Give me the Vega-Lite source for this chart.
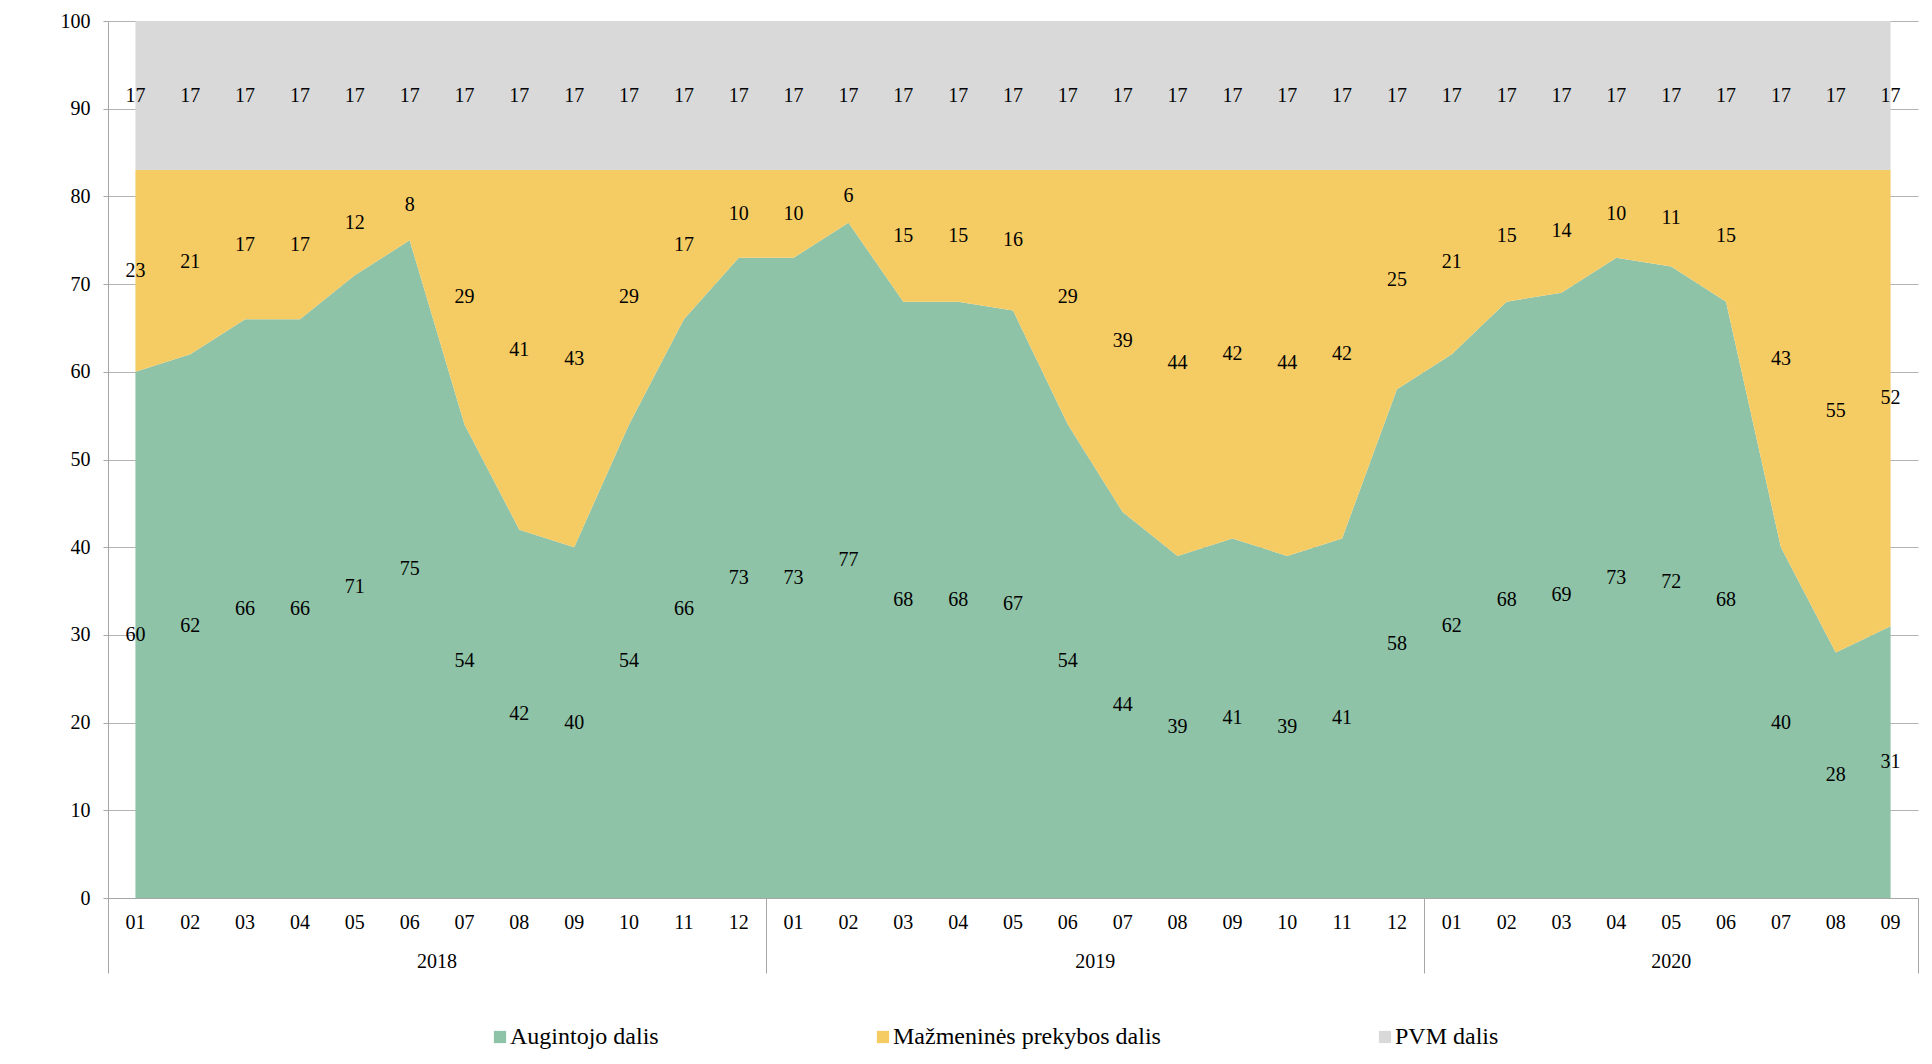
{
  "$schema": "https://vega.github.io/schema/vega-lite/v6.json",
  "autosize": {"type": "none"},
  "padding": {"left": 108, "top": 21, "right": 14, "bottom": 166},
  "width": 1810,
  "height": 877,
  "background": "white",
  "config": {"view": {"stroke": null}},
  "data": {"values": [
    {"m":"2018-01","s":"Augintojo dalis","o":1,"v":60},{"m":"2018-01","s":"Mažmeninės prekybos dalis","o":2,"v":23},{"m":"2018-01","s":"PVM dalis","o":3,"v":17},
    {"m":"2018-02","s":"Augintojo dalis","o":1,"v":62},{"m":"2018-02","s":"Mažmeninės prekybos dalis","o":2,"v":21},{"m":"2018-02","s":"PVM dalis","o":3,"v":17},
    {"m":"2018-03","s":"Augintojo dalis","o":1,"v":66},{"m":"2018-03","s":"Mažmeninės prekybos dalis","o":2,"v":17},{"m":"2018-03","s":"PVM dalis","o":3,"v":17},
    {"m":"2018-04","s":"Augintojo dalis","o":1,"v":66},{"m":"2018-04","s":"Mažmeninės prekybos dalis","o":2,"v":17},{"m":"2018-04","s":"PVM dalis","o":3,"v":17},
    {"m":"2018-05","s":"Augintojo dalis","o":1,"v":71},{"m":"2018-05","s":"Mažmeninės prekybos dalis","o":2,"v":12},{"m":"2018-05","s":"PVM dalis","o":3,"v":17},
    {"m":"2018-06","s":"Augintojo dalis","o":1,"v":75},{"m":"2018-06","s":"Mažmeninės prekybos dalis","o":2,"v":8},{"m":"2018-06","s":"PVM dalis","o":3,"v":17},
    {"m":"2018-07","s":"Augintojo dalis","o":1,"v":54},{"m":"2018-07","s":"Mažmeninės prekybos dalis","o":2,"v":29},{"m":"2018-07","s":"PVM dalis","o":3,"v":17},
    {"m":"2018-08","s":"Augintojo dalis","o":1,"v":42},{"m":"2018-08","s":"Mažmeninės prekybos dalis","o":2,"v":41},{"m":"2018-08","s":"PVM dalis","o":3,"v":17},
    {"m":"2018-09","s":"Augintojo dalis","o":1,"v":40},{"m":"2018-09","s":"Mažmeninės prekybos dalis","o":2,"v":43},{"m":"2018-09","s":"PVM dalis","o":3,"v":17},
    {"m":"2018-10","s":"Augintojo dalis","o":1,"v":54},{"m":"2018-10","s":"Mažmeninės prekybos dalis","o":2,"v":29},{"m":"2018-10","s":"PVM dalis","o":3,"v":17},
    {"m":"2018-11","s":"Augintojo dalis","o":1,"v":66},{"m":"2018-11","s":"Mažmeninės prekybos dalis","o":2,"v":17},{"m":"2018-11","s":"PVM dalis","o":3,"v":17},
    {"m":"2018-12","s":"Augintojo dalis","o":1,"v":73},{"m":"2018-12","s":"Mažmeninės prekybos dalis","o":2,"v":10},{"m":"2018-12","s":"PVM dalis","o":3,"v":17},
    {"m":"2019-01","s":"Augintojo dalis","o":1,"v":73},{"m":"2019-01","s":"Mažmeninės prekybos dalis","o":2,"v":10},{"m":"2019-01","s":"PVM dalis","o":3,"v":17},
    {"m":"2019-02","s":"Augintojo dalis","o":1,"v":77},{"m":"2019-02","s":"Mažmeninės prekybos dalis","o":2,"v":6},{"m":"2019-02","s":"PVM dalis","o":3,"v":17},
    {"m":"2019-03","s":"Augintojo dalis","o":1,"v":68},{"m":"2019-03","s":"Mažmeninės prekybos dalis","o":2,"v":15},{"m":"2019-03","s":"PVM dalis","o":3,"v":17},
    {"m":"2019-04","s":"Augintojo dalis","o":1,"v":68},{"m":"2019-04","s":"Mažmeninės prekybos dalis","o":2,"v":15},{"m":"2019-04","s":"PVM dalis","o":3,"v":17},
    {"m":"2019-05","s":"Augintojo dalis","o":1,"v":67},{"m":"2019-05","s":"Mažmeninės prekybos dalis","o":2,"v":16},{"m":"2019-05","s":"PVM dalis","o":3,"v":17},
    {"m":"2019-06","s":"Augintojo dalis","o":1,"v":54},{"m":"2019-06","s":"Mažmeninės prekybos dalis","o":2,"v":29},{"m":"2019-06","s":"PVM dalis","o":3,"v":17},
    {"m":"2019-07","s":"Augintojo dalis","o":1,"v":44},{"m":"2019-07","s":"Mažmeninės prekybos dalis","o":2,"v":39},{"m":"2019-07","s":"PVM dalis","o":3,"v":17},
    {"m":"2019-08","s":"Augintojo dalis","o":1,"v":39},{"m":"2019-08","s":"Mažmeninės prekybos dalis","o":2,"v":44},{"m":"2019-08","s":"PVM dalis","o":3,"v":17},
    {"m":"2019-09","s":"Augintojo dalis","o":1,"v":41},{"m":"2019-09","s":"Mažmeninės prekybos dalis","o":2,"v":42},{"m":"2019-09","s":"PVM dalis","o":3,"v":17},
    {"m":"2019-10","s":"Augintojo dalis","o":1,"v":39},{"m":"2019-10","s":"Mažmeninės prekybos dalis","o":2,"v":44},{"m":"2019-10","s":"PVM dalis","o":3,"v":17},
    {"m":"2019-11","s":"Augintojo dalis","o":1,"v":41},{"m":"2019-11","s":"Mažmeninės prekybos dalis","o":2,"v":42},{"m":"2019-11","s":"PVM dalis","o":3,"v":17},
    {"m":"2019-12","s":"Augintojo dalis","o":1,"v":58},{"m":"2019-12","s":"Mažmeninės prekybos dalis","o":2,"v":25},{"m":"2019-12","s":"PVM dalis","o":3,"v":17},
    {"m":"2020-01","s":"Augintojo dalis","o":1,"v":62},{"m":"2020-01","s":"Mažmeninės prekybos dalis","o":2,"v":21},{"m":"2020-01","s":"PVM dalis","o":3,"v":17},
    {"m":"2020-02","s":"Augintojo dalis","o":1,"v":68},{"m":"2020-02","s":"Mažmeninės prekybos dalis","o":2,"v":15},{"m":"2020-02","s":"PVM dalis","o":3,"v":17},
    {"m":"2020-03","s":"Augintojo dalis","o":1,"v":69},{"m":"2020-03","s":"Mažmeninės prekybos dalis","o":2,"v":14},{"m":"2020-03","s":"PVM dalis","o":3,"v":17},
    {"m":"2020-04","s":"Augintojo dalis","o":1,"v":73},{"m":"2020-04","s":"Mažmeninės prekybos dalis","o":2,"v":10},{"m":"2020-04","s":"PVM dalis","o":3,"v":17},
    {"m":"2020-05","s":"Augintojo dalis","o":1,"v":72},{"m":"2020-05","s":"Mažmeninės prekybos dalis","o":2,"v":11},{"m":"2020-05","s":"PVM dalis","o":3,"v":17},
    {"m":"2020-06","s":"Augintojo dalis","o":1,"v":68},{"m":"2020-06","s":"Mažmeninės prekybos dalis","o":2,"v":15},{"m":"2020-06","s":"PVM dalis","o":3,"v":17},
    {"m":"2020-07","s":"Augintojo dalis","o":1,"v":40},{"m":"2020-07","s":"Mažmeninės prekybos dalis","o":2,"v":43},{"m":"2020-07","s":"PVM dalis","o":3,"v":17},
    {"m":"2020-08","s":"Augintojo dalis","o":1,"v":28},{"m":"2020-08","s":"Mažmeninės prekybos dalis","o":2,"v":55},{"m":"2020-08","s":"PVM dalis","o":3,"v":17},
    {"m":"2020-09","s":"Augintojo dalis","o":1,"v":31},{"m":"2020-09","s":"Mažmeninės prekybos dalis","o":2,"v":52},{"m":"2020-09","s":"PVM dalis","o":3,"v":17}
  ]},
  "transform": [
    {"stack": "v", "groupby": ["m"], "sort": [{"field": "o", "order": "ascending"}], "as": ["v0", "v1"]},
    {"calculate": "(datum.v0 + datum.v1) / 2", "as": "mid"}
  ],
  "resolve": {"axis": {"x": "independent", "y": "shared"}},
  "layer": [
    {
      "mark": {"type": "area", "interpolate": "linear"},
      "encoding": {
        "x": {"field": "m", "type": "ordinal", "bandPosition": 0.5,
          "scale": {"type": "band", "paddingInner": 0, "paddingOuter": 0},
          "axis": {"orient": "bottom", "title": null, "ticks": false, "tickSize": 0, "grid": false,
            "domain": true, "domainColor": "#A6A6A6", "domainWidth": 1,
            "labelExpr": "substring(datum.value, 5)", "labelAngle": 0, "labelPadding": 24, "labelBaseline": "middle",
            "labelFont": "Liberation Serif", "labelFontSize": 20, "labelColor": "#000000", "labelOverlap": false, "labelBound": false, "labelFlush": false}},
        "y": {"field": "v1", "type": "quantitative",
          "scale": {"domain": [0, 100], "nice": false},
          "axis": {"orient": "left", "title": null, "values": [0,10,20,30,40,50,60,70,80,90,100], "grid": true, "gridColor": "#B4B4B4", "gridWidth": 1,
            "domain": true, "domainColor": "#A6A6A6", "ticks": true, "tickSize": 5, "tickColor": "#A6A6A6",
            "labelPadding": 13, "labelFont": "Liberation Serif", "labelFontSize": 20, "labelColor": "#000000"}},
        "y2": {"field": "v0"},
        "color": {"field": "s", "type": "nominal",
          "scale": {"domain": ["Augintojo dalis", "Mažmeninės prekybos dalis", "PVM dalis"], "range": ["#8FC3A7", "#F5CB64", "#D9D9D9"]},
          "legend": {"orient": "none", "legendX": 380, "legendY": 1004, "direction": "horizontal", "title": null,
            "columnPadding": 212, "symbolType": "square", "symbolSize": 150, "symbolStrokeWidth": 0, "symbolOpacity": 1,
            "labelFont": "Liberation Serif", "labelFontSize": 24, "labelColor": "#000000", "labelOffset": -2, "padding": 0, "labelLimit": 0}},
        "order": {"field": "o"}
      }
    },
    {
      "transform": [{"filter": "datum.o == 1"}],
      "mark": {"type": "text", "font": "Liberation Serif", "fontSize": 20, "color": "#000000", "baseline": "middle", "align": "center"},
      "encoding": {
        "x": {"field": "m", "type": "ordinal", "bandPosition": 0.5,
          "scale": {"type": "band", "paddingInner": 0, "paddingOuter": 0},
          "axis": {"orient": "bottom", "title": null, "domain": false, "grid": false, "bandPosition": 0,
            "values": ["2018-01", "2019-01", "2020-01"], "ticks": true, "tickSize": 75, "tickColor": "#A6A6A6",
            "labelExpr": "substring(datum.value, 0, 4)", "labelAngle": 0,
            "labelOffset": {"condition": {"test": "datum.value == '2020-01'", "value": 219.4}, "value": 301.7},
            "labelPadding": -12, "labelBaseline": "middle", "labelAlign": "center",
            "labelFont": "Liberation Serif", "labelFontSize": 20, "labelColor": "#000000", "labelOverlap": false, "labelBound": false, "labelFlush": false}},
        "y": {"field": "mid", "type": "quantitative", "scale": {"domain": [0, 100], "nice": false},
          "axis": {"orient": "left", "title": null, "values": [0,10,20,30,40,50,60,70,80,90,100], "grid": true, "gridColor": "#B4B4B4", "gridWidth": 1,
            "domain": true, "domainColor": "#A6A6A6", "ticks": true, "tickSize": 5, "tickColor": "#A6A6A6",
            "labelPadding": 13, "labelFont": "Liberation Serif", "labelFontSize": 20, "labelColor": "#000000"}},
        "text": {"field": "v", "type": "quantitative"}
      }
    },
    {
      "transform": [{"filter": "datum.o == 2"}],
      "mark": {"type": "text", "font": "Liberation Serif", "fontSize": 20, "color": "#000000", "baseline": "middle", "align": "center"},
      "encoding": {
        "x": {"field": "m", "type": "ordinal", "bandPosition": 0.5,
          "scale": {"type": "band", "paddingInner": 0, "paddingOuter": 0},
          "axis": {"orient": "bottom", "title": null, "domain": false, "grid": false, "bandPosition": 1,
            "values": ["2020-09"], "ticks": true, "tickSize": 75, "tickColor": "#A6A6A6", "labels": false}},
        "y": {"field": "mid", "type": "quantitative", "scale": {"domain": [0, 100], "nice": false},
          "axis": {"orient": "left", "title": null, "values": [0,10,20,30,40,50,60,70,80,90,100], "grid": true, "gridColor": "#B4B4B4", "gridWidth": 1,
            "domain": true, "domainColor": "#A6A6A6", "ticks": true, "tickSize": 5, "tickColor": "#A6A6A6",
            "labelPadding": 13, "labelFont": "Liberation Serif", "labelFontSize": 20, "labelColor": "#000000"}},
        "text": {"field": "v", "type": "quantitative"}
      }
    },
    {
      "transform": [{"filter": "datum.o == 3"}],
      "mark": {"type": "text", "font": "Liberation Serif", "fontSize": 20, "color": "#000000", "baseline": "middle", "align": "center"},
      "encoding": {
        "x": {"field": "m", "type": "ordinal", "bandPosition": 0.5,
          "scale": {"type": "band", "paddingInner": 0, "paddingOuter": 0}, "axis": null},
        "y": {"field": "mid", "type": "quantitative", "scale": {"domain": [0, 100], "nice": false},
          "axis": {"orient": "left", "title": null, "values": [0,10,20,30,40,50,60,70,80,90,100], "grid": true, "gridColor": "#B4B4B4", "gridWidth": 1,
            "domain": true, "domainColor": "#A6A6A6", "ticks": true, "tickSize": 5, "tickColor": "#A6A6A6",
            "labelPadding": 13, "labelFont": "Liberation Serif", "labelFontSize": 20, "labelColor": "#000000"}},
        "text": {"field": "v", "type": "quantitative"}
      }
    }
  ]
}
